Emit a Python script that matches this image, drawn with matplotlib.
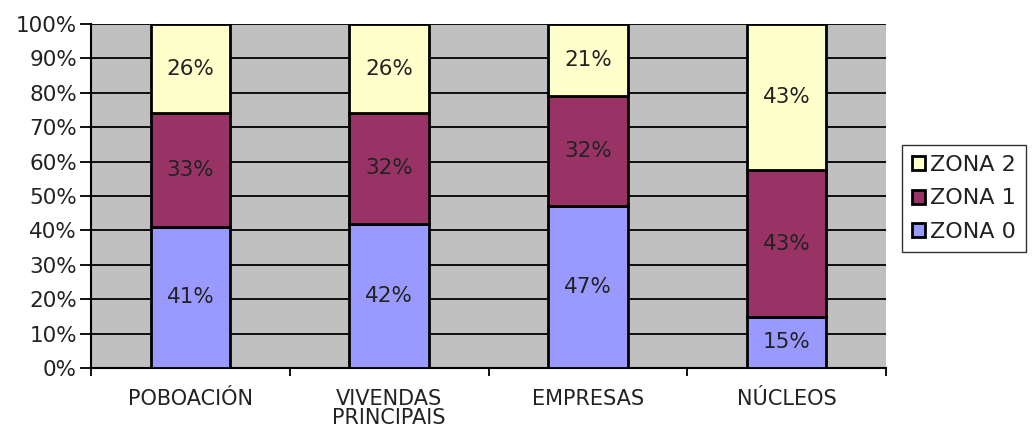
import matplotlib
matplotlib.use("Agg")
import matplotlib.pyplot as plt
import numpy as np

categories = ["POBOACIÓN", "VIVENDAS\nPRINCIPAIS", "EMPRESAS", "NÚCLEOS"]
zona0 = [41, 42, 47, 15]
zona1 = [33, 32, 32, 43]
zona2 = [26, 26, 21, 43]
series_names = ["ZONA 0", "ZONA 1", "ZONA 2"]
colors = ["#9999FF", "#993366", "#FFFFCC"]

plt.rcParams['font.family'] = ['DejaVu Sans']
fig = plt.figure(figsize=(10.34, 4.30), dpi=100)
ax = fig.add_axes([91/1034, (430-368)/430, (886-91)/1034, (368-24)/430])
ax.set_facecolor("#C0C0C0")

data = np.array([zona0, zona1, zona2], dtype=float)
totals = data.sum(axis=0)
norm = data / totals * 100
x = np.arange(len(categories))
bottom = np.zeros(len(categories))
handles = []
for i, (vals, raw) in enumerate(zip(norm, data)):
    b = ax.bar(x, vals, width=0.40, bottom=bottom, color=colors[i],
               edgecolor="black", linewidth=2, zorder=3, label=series_names[i])
    handles.append(b)
    for xi, v, bt, r in zip(x, vals, bottom, raw):
        ax.text(xi, bt + v / 2, f"{int(r)}%", ha="center", va="center",
                fontsize=15.5, color="#222222", zorder=4)
    bottom += vals

ax.set_xlim(-0.5, len(categories) - 0.5)
ax.set_ylim(0, 100)
ax.set_yticks(np.arange(0, 101, 10))
ax.set_yticklabels([f"{v}%" for v in range(0, 101, 10)], fontsize=15.5, color="#222222")
ax.yaxis.grid(True, color="black", linewidth=1.3, zorder=1)
ax.set_axisbelow(True)
ax.tick_params(axis="y", length=8, width=1.3, direction="out", pad=2)

ax.set_xticks(x)
ax.set_xticklabels(categories, fontsize=15, color="#222222", linespacing=0.95)
ax.tick_params(axis="x", which="major", length=0, pad=15)
ax.set_xticks(np.arange(-0.5, len(categories), 1.0), minor=True)
ax.tick_params(axis="x", which="minor", length=6, width=1.3, direction="out")

for s in ["top", "right"]:
    ax.spines[s].set_visible(False)
for s in ["left", "bottom"]:
    ax.spines[s].set_color("black")
    ax.spines[s].set_linewidth(1.5)

leg = fig.legend(handles[::-1], series_names[::-1], loc="center left",
                 bbox_to_anchor=(902/1034, (430-198.5)/430), fontsize=16,
                 frameon=True, fancybox=False, edgecolor="black",
                 handlelength=0.6, handleheight=0.6, handletextpad=0.2,
                 labelspacing=0.6, borderpad=0.45, borderaxespad=0)
leg.get_frame().set_linewidth(1.0)
for t in leg.get_texts():
    t.set_color("#222222")

fig.savefig("out.png", dpi=100)
